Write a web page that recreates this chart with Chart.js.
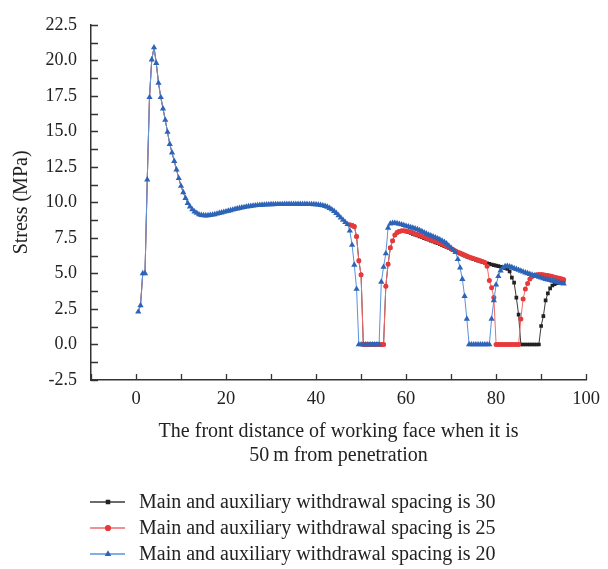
<!DOCTYPE html>
<html>
<head>
<meta charset="utf-8">
<script src="https://cdn.jsdelivr.net/npm/chart.js@4.4.1/dist/chart.umd.min.js"></script>
<style>
  html, body { margin: 0; padding: 0; background: #fff; }
  #wrap { width: 608px; height: 569px; }
</style>
</head>
<body>
<div id="wrap"><canvas id="stress-chart" width="608" height="569"></canvas></div>
<script>
// distance ahead of the working face, sampled every 0.5 m
const distance = [];
for (let i = 1; i <= 190; i++) distance.push(i * 0.5);

// 0.5 m .. 47 m : the three cases give the same stress
const leadIn = [
  2.3, 2.75, 5.0, 5.0, 11.6, 17.4, 20.05, 20.9, 19.8, 18.4,
  17.4, 16.6, 15.8, 14.95, 14.1, 13.5, 12.9, 12.3, 11.7, 11.15,
  10.7, 10.3, 9.95, 9.7, 9.5, 9.35, 9.25, 9.15, 9.1, 9.08,
  9.07, 9.08, 9.1, 9.13, 9.16, 9.2, 9.24, 9.28, 9.32, 9.36,
  9.4, 9.44, 9.48, 9.52, 9.56, 9.6, 9.63, 9.66, 9.69, 9.72,
  9.74, 9.76, 9.78, 9.8, 9.81, 9.82, 9.83, 9.84, 9.85, 9.86,
  9.86, 9.87, 9.87, 9.87, 9.87, 9.88, 9.88, 9.88, 9.88, 9.88,
  9.88, 9.88, 9.88, 9.88, 9.88, 9.88, 9.87, 9.87, 9.86, 9.85,
  9.83, 9.81, 9.78, 9.74, 9.68, 9.6, 9.5, 9.38, 9.24, 9.08,
  8.92, 8.76, 8.6, 8.46
];

// 47.5 m .. 95 m for each spacing
const tail30 = [
  8.42, 8.38, 8.3, 7.6, 5.9, 4.9,
  0, 0, 0, 0, 0, 0, 0, 0, 0, 0,
  4.1, 5.65, 6.8, 7.3, 7.7, 7.88, 7.96, 8.0, 7.98, 7.95,
  7.9, 7.85, 7.79, 7.73, 7.67, 7.61, 7.55, 7.49, 7.43, 7.37,
  7.31, 7.25, 7.19, 7.13, 7.06, 6.99, 6.92, 6.85, 6.78, 6.71,
  6.63, 6.55, 6.47, 6.39, 6.32, 6.25, 6.18, 6.12, 6.06, 6.0,
  5.95, 5.9, 5.85, 5.8, 5.75, 5.71, 5.67, 5.63, 5.59, 5.55,
  5.51, 5.47, 5.43, 5.38, 5.32, 5.15,
  4.7, 4.35, 3.3, 2.1,
  0, 0, 0, 0, 0, 0, 0, 0, 0,
  1.3, 2.0, 3.1, 3.6, 3.95, 4.15, 4.25, 4.32, 4.37, 4.4, 4.42
];
const tail25 = [
  8.42, 8.38, 8.3, 7.6, 5.9, 4.9,
  0, 0, 0, 0, 0, 0, 0, 0, 0, 0,
  4.1, 5.65, 6.8, 7.3, 7.7, 7.88, 7.96, 8.0, 8.0, 7.98,
  7.95, 7.91, 7.86, 7.8, 7.74, 7.68, 7.62, 7.56, 7.5, 7.44,
  7.38, 7.32, 7.26, 7.2, 7.13, 7.06, 6.98, 6.9, 6.82, 6.74,
  6.66, 6.58, 6.5, 6.43, 6.36, 6.29, 6.22, 6.16, 6.1, 6.05,
  6.0, 5.95, 5.9, 5.84, 5.77, 5.5,
  4.5, 4.0, 3.3,
  0, 0, 0, 0, 0, 0, 0, 0, 0, 0, 0,
  1.8, 3.2, 3.9, 4.3, 4.6, 4.78, 4.85, 4.9, 4.92, 4.92,
  4.9, 4.88, 4.85, 4.82, 4.78, 4.74, 4.7, 4.66, 4.62, 4.58
];
const tail20 = [
  8.0, 7.0, 5.6, 3.9,
  0, 0, 0, 0, 0, 0, 0, 0, 0, 0,
  4.4, 5.45, 6.4, 8.2, 8.5, 8.55, 8.55, 8.52, 8.48, 8.44, 8.39, 8.34,
  8.3, 8.25, 8.2, 8.15, 8.1, 8.03, 7.96, 7.88, 7.8, 7.72,
  7.66, 7.6, 7.53, 7.46, 7.38, 7.3, 7.2, 7.1, 6.95, 6.8,
  6.65, 6.5, 6.0, 5.4, 4.6, 3.4, 1.8,
  0, 0, 0, 0, 0, 0, 0, 0, 0, 0,
  1.8, 3.1, 4.2, 4.8, 5.2, 5.4, 5.5, 5.52, 5.48, 5.42,
  5.36, 5.3, 5.24, 5.18, 5.12, 5.06, 5.0, 4.95, 4.9, 4.85,
  4.8, 4.75, 4.7, 4.65, 4.6, 4.56, 4.52, 4.48, 4.44, 4.4,
  4.36, 4.32, 4.28
];

const spacing30 = leadIn.concat(tail30);
const spacing25 = leadIn.concat(tail25);
const spacing20 = leadIn.concat(tail20);

const seriesNames = [
  'Main and auxiliary withdrawal spacing is 30',
  'Main and auxiliary withdrawal spacing is 25',
  'Main and auxiliary withdrawal spacing is 20'
];
const xTickLabels = [0, 20, 40, 60, 80, 100];

const serif = "'Liberation Serif', 'DejaVu Serif', serif";

// where all three curves coincide only the top (blue) markers are drawn
const markerSize = r => ctx => ctx.dataIndex < leadIn.length ? 0 : r;

// white page, inward tick marks and the line+marker legend under the axes
const decorations = {
  id: 'decorations',
  beforeDraw(chart) {
    const ctx = chart.ctx;
    ctx.save();
    ctx.fillStyle = '#fff';
    ctx.fillRect(0, 0, chart.width, chart.height);
    ctx.restore();
  },
  afterDraw(chart) {
    const ctx = chart.ctx;
    const xs = chart.scales.x, ys = chart.scales.y;
    const area = chart.chartArea;
    ctx.save();
    ctx.strokeStyle = '#333';
    ctx.lineWidth = 1.3;
    ctx.beginPath();
    for (let v = ys.min; v <= ys.max + 0.001; v += 1.25) {
      const py = Math.round(ys.getPixelForValue(v)) + 0.5;
      ctx.moveTo(area.left, py);
      ctx.lineTo(area.left + 7, py);
    }
    xs.ticks.forEach(t => {
      const px = Math.round(xs.getPixelForValue(t.value)) + 0.5;
      ctx.moveTo(px, area.bottom);
      ctx.lineTo(px, area.bottom - 6);
    });
    ctx.stroke();

    // legend rows
    const rowY = [502, 528, 554];
    const legendSize = [3.2, 3.1, 3.8];
    chart.data.datasets.forEach((ds, i) => {
      const y = rowY[i];
      ctx.strokeStyle = ds.borderColor;
      ctx.lineWidth = 1.5;
      ctx.beginPath();
      ctx.moveTo(90, y);
      ctx.lineTo(125, y);
      ctx.stroke();
      ctx.fillStyle = ds.pointBackgroundColor;
      ctx.strokeStyle = ds.pointBackgroundColor;
      Chart.helpers.drawPoint(ctx, {
        pointStyle: ds.pointStyle, radius: legendSize[i],
        borderWidth: 0, rotation: 0
      }, 108, y);
      ctx.fillStyle = '#222';
      ctx.font = '20px ' + serif;
      ctx.textBaseline = 'middle';
      ctx.textAlign = 'left';
      ctx.fillText(ds.label, 139, y + 1);
    });
    ctx.restore();
  }
};

new Chart(document.getElementById('stress-chart'), {
  type: 'line',
  data: {
    labels: distance,
    datasets: [
      {
        label: seriesNames[0], data: spacing30, order: 2,
        borderColor: '#3a3a3a', borderWidth: 1,
        pointStyle: 'rect', pointRadius: markerSize(2.6),
        pointBackgroundColor: '#222', pointBorderWidth: 0
      },
      {
        label: seriesNames[1], data: spacing25, order: 1,
        borderColor: '#f26a6a', borderWidth: 1,
        pointStyle: 'circle', pointRadius: markerSize(2.5),
        pointBackgroundColor: '#e8393a', pointBorderWidth: 0
      },
      {
        label: seriesNames[2], data: spacing20, order: 0,
        borderColor: '#5a93dc', borderWidth: 1,
        pointStyle: 'triangle', pointRadius: 3.6,
        pointBackgroundColor: '#2e64b8', pointBorderWidth: 0
      }
    ]
  },
  options: {
    responsive: false,
    animation: false,
    devicePixelRatio: 1,
    layout: { padding: { top: 21, right: 15, bottom: 99, left: 0 } },
    plugins: {
      legend: { display: false },
      tooltip: { enabled: false }
    },
    scales: {
      x: {
        type: 'linear',
        min: -10, max: 100,
        afterFit: s => { s.height = 90; },
        ticks: {
          stepSize: 10,
          autoSkip: false,
          maxRotation: 0,
          padding: 8,
          color: '#222',
          font: { family: serif, size: 18.5 },
          callback: v => xTickLabels.includes(v) ? String(v) : ''
        },
        grid: { display: false, drawTicks: false },
        border: { display: true, color: '#333', width: 1.5 },
        title: {
          display: true,
          text: ['The front distance of working face when it is', '50\u2009m from penetration'],
          color: '#222',
          font: { family: serif, size: 20, lineHeight: 1.2 },
          padding: { top: 0, bottom: 2 }
        }
      },
      y: {
        min: -2.5, max: 22.5,
        afterFit: s => { s.width = 91; },
        ticks: {
          stepSize: 2.5,
          padding: 14,
          color: '#222',
          font: { family: serif, size: 18 },
          callback: v => v.toFixed(1)
        },
        grid: { display: false, drawTicks: false },
        border: { display: true, color: '#333', width: 1.5 },
        title: {
          display: true,
          text: 'Stress (MPa)',
          color: '#222',
          font: { family: serif, size: 20, lineHeight: 1.2 },
          padding: { top: 10, bottom: 0 }
        }
      }
    }
  },
  plugins: [decorations]
});
</script>
</body>
</html>
